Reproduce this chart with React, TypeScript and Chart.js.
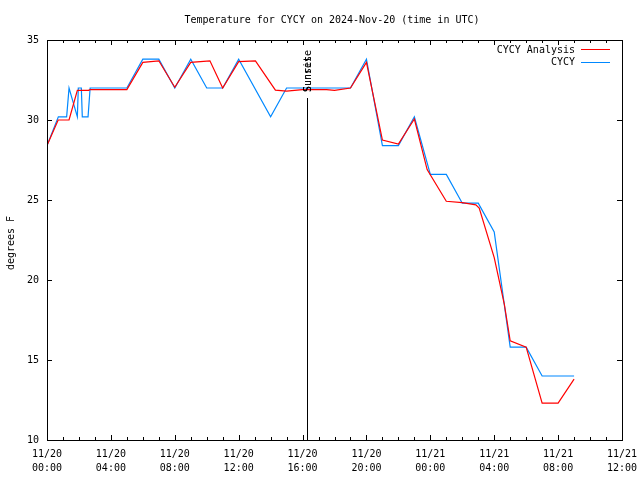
import React, { useEffect, useRef } from "react";
import { Chart, registerables } from "chart.js";

Chart.register(...registerables);

const TITLE = "Temperature for CYCY on 2024-Nov-20 (time in UTC)";
const Y_TITLE = "degrees F";

const X_MIN = 0;
const X_MAX = 36;
const X_TICK_HOURS = [0, 4, 8, 12, 16, 20, 24, 28, 32, 36];
const X_TICK_DATES = ["11/20", "11/20", "11/20", "11/20", "11/20", "11/20", "11/21", "11/21", "11/21", "11/21"];
const X_TICK_TIMES = ["00:00", "04:00", "08:00", "12:00", "16:00", "20:00", "00:00", "04:00", "08:00", "12:00"];
const Y_TICKS = [10, 15, 20, 25, 30, 35];

const ANALYSIS_LABEL = "CYCY Analysis";
const ANALYSIS_HOURS = [0, 0.7, 1.38, 1.9, 2.6, 2.7, 4, 5, 6, 7, 8, 9, 10.2, 11, 12, 13.05, 14.3, 15, 16, 17.5, 18, 19, 20, 21, 22, 23, 23.8, 25, 26, 26.85, 27.06, 28, 28.63, 29, 30, 31, 32, 33];
const ANALYSIS_TEMPS = [28.4, 30.0, 30.0, 31.85, 31.85, 31.9, 31.9, 31.9, 33.6, 33.7, 32.05, 33.6, 33.7, 32.0, 33.65, 33.7, 31.87, 31.8, 31.9, 31.9, 31.85, 32.0, 33.6, 28.75, 28.5, 30.06, 26.9, 24.92, 24.83, 24.7, 24.5, 21.4, 18.5, 16.2, 15.8, 12.3, 12.3, 13.8];

const OBS_LABEL = "CYCY";
const OBS_HOURS = [0, 0.71, 1.23, 1.38, 1.9, 1.96, 2.15, 2.21, 2.57, 2.7, 3, 4, 5, 6, 7, 8, 9, 10, 11, 12, 14, 15, 16, 17, 18, 19, 20, 21, 22, 23, 24, 25, 26, 27, 28, 29, 30, 31, 32, 33];
const OBS_TEMPS = [28.4, 30.2, 30.2, 32.0, 30.2, 32.0, 32.0, 30.2, 30.2, 32.0, 32.0, 32.0, 32.0, 33.8, 33.8, 32.0, 33.8, 32.0, 32.0, 33.8, 30.2, 32.0, 32.0, 32.0, 32.0, 32.0, 33.8, 28.4, 28.4, 30.2, 26.6, 26.6, 24.8, 24.8, 23.0, 15.8, 15.8, 14.0, 14.0, 14.0];

const EVENT_HOUR = 16.27;
const EVENT_LABELS = ["Sunrise", "Sunset"];

const RED = "#ff0000";
const BLUE = "#0088ff";
const FONT_FAMILY = "'DejaVu Sans Mono', 'Liberation Mono', monospace";
const FONT_SIZE = 10;

const decorPlugin = {
  id: "decor",
  afterDatasetsDraw(chart: any) {
    const ctx = chart.ctx;
    const xs = chart.scales.x;
    const ys = chart.scales.y;
    const { left, right, top, bottom } = chart.chartArea;
    ctx.save();
    ctx.strokeStyle = "#000";
    ctx.lineWidth = 1;
    // event line
    const ex = Math.round(xs.getPixelForValue(EVENT_HOUR)) + 0.5;
    ctx.beginPath();
    ctx.moveTo(ex, 98);
    ctx.lineTo(ex, bottom);
    ctx.stroke();
    ctx.fillStyle = "#000";
    ctx.font = `${FONT_SIZE}px ${FONT_FAMILY}`;
    for (const lbl of EVENT_LABELS) {
      ctx.save();
      ctx.translate(ex + 1, 92);
      ctx.rotate(-Math.PI / 2);
      ctx.textAlign = "left";
      ctx.textBaseline = "middle";
      ctx.fillText(lbl, 0, 0);
      ctx.restore();
    }
    // frame
    ctx.strokeRect(Math.round(left) + 0.5, Math.round(top) + 0.5, Math.round(right - left), Math.round(bottom - top));
    // x ticks
    for (let h = X_MIN; h <= X_MAX; h++) {
      const px = Math.round(xs.getPixelForValue(h)) + 0.5;
      const len = h % 4 === 0 ? 5 : 3;
      ctx.beginPath();
      ctx.moveTo(px, bottom);
      ctx.lineTo(px, bottom - len);
      ctx.moveTo(px, top);
      ctx.lineTo(px, top + len);
      ctx.stroke();
    }
    for (const v of Y_TICKS) {
      const py = Math.round(ys.getPixelForValue(v)) + 0.5;
      ctx.beginPath();
      ctx.moveTo(left, py);
      ctx.lineTo(left + 5, py);
      ctx.moveTo(right, py);
      ctx.lineTo(right - 5, py);
      ctx.stroke();
    }
    // title
    ctx.textAlign = "center";
    ctx.textBaseline = "middle";
    ctx.fillText(TITLE, 332, 20);
    // y title
    ctx.save();
    ctx.translate(11, 243);
    ctx.rotate(-Math.PI / 2);
    ctx.fillText(Y_TITLE, 0, 0);
    ctx.restore();
    // legend
    chart.data.datasets.forEach((ds: any, i: number) => {
      const y = 50 + i * 12.5;
      ctx.fillStyle = "#000";
      ctx.textAlign = "right";
      ctx.fillText(ds.label, 575, y);
      ctx.strokeStyle = ds.borderColor;
      ctx.beginPath();
      ctx.moveTo(581, Math.round(y) - 0.5);
      ctx.lineTo(610, Math.round(y) - 0.5);
      ctx.stroke();
    });
    ctx.restore();
  },
};

export default function App() {
  const ref = useRef<HTMLCanvasElement | null>(null);
  useEffect(() => {
    if (!ref.current) return;
    const chart = new Chart(ref.current, {
      type: "line",
      data: {
        datasets: [
          {
            label: ANALYSIS_LABEL,
            data: ANALYSIS_HOURS.map((h, i) => ({ x: h, y: ANALYSIS_TEMPS[i] })),
            borderColor: RED,
            backgroundColor: RED,
            borderWidth: 1.2,
            pointRadius: 0,
            tension: 0,
            fill: false,
          },
          {
            label: OBS_LABEL,
            data: OBS_HOURS.map((h, i) => ({ x: h, y: OBS_TEMPS[i] })),
            borderColor: BLUE,
            backgroundColor: BLUE,
            borderWidth: 1.2,
            pointRadius: 0,
            tension: 0,
            fill: false,
          },
        ],
      },
      options: {
        animation: false,
        responsive: false,
        maintainAspectRatio: false,
        layout: { padding: { left: 0, right: 18, top: 40, bottom: 0 } },
        plugins: {
          legend: { display: false },
          title: { display: false },
          tooltip: { enabled: false },
        },
        scales: {
          x: {
            type: "linear",
            min: X_MIN,
            max: X_MAX,
            border: { display: false },
            grid: { display: false, drawTicks: false },
            afterFit: (s: any) => {
              s.height = 40;
              s.paddingLeft = 0;
              s.paddingRight = 0;
            },
            afterBuildTicks: (s: any) => {
              s.ticks = X_TICK_HOURS.map((v) => ({ value: v }));
            },
            ticks: {
              autoSkip: false,
              maxRotation: 0,
              minRotation: 0,
              padding: 8,
              color: "#000",
              font: { family: FONT_FAMILY, size: FONT_SIZE, lineHeight: 1.35 },
              callback: (v: any) => {
                const i = X_TICK_HOURS.indexOf(Number(v));
                return i >= 0 ? [X_TICK_DATES[i], X_TICK_TIMES[i]] : "";
              },
            },
          },
          y: {
            type: "linear",
            min: 10,
            max: 35,
            border: { display: false },
            grid: { display: false, drawTicks: false },
            afterFit: (s: any) => {
              s.width = 47;
              s.paddingTop = 0;
              s.paddingBottom = 0;
            },
            afterBuildTicks: (s: any) => {
              s.ticks = Y_TICKS.map((v) => ({ value: v }));
            },
            ticks: {
              padding: 8,
              color: "#000",
              font: { family: FONT_FAMILY, size: FONT_SIZE },
            },
          },
        },
      },
      plugins: [decorPlugin],
    });
    return () => chart.destroy();
  }, []);
  return (
    <div style={{ position: "fixed", left: 0, top: 0, width: 640, height: 480, background: "#fff" }}>
      <canvas ref={ref} width={640} height={480} style={{ width: 640, height: 480, display: "block" }} />
    </div>
  );
}
